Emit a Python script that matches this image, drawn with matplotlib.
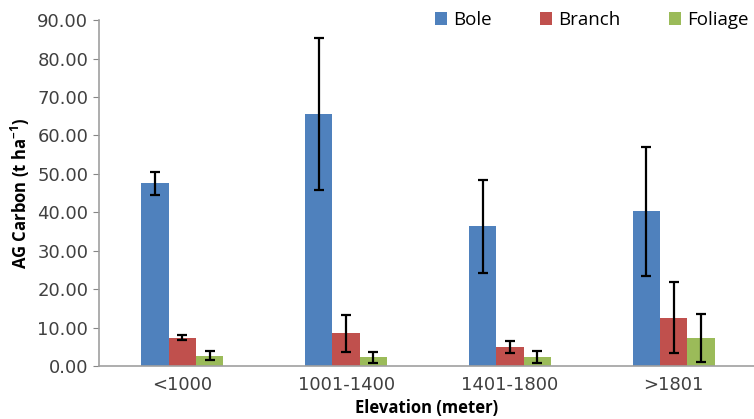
import numpy as np
import matplotlib.pyplot as plt
from matplotlib.ticker import FormatStrFormatter

categories = ["<1000", "1001-1400", "1401-1800", ">1801"]
series = ["Bole", "Branch", "Foliage"]
bole = [47.5, 65.5, 36.4, 40.3]
bole_err = [2.9, 19.8, 12.1, 16.8]
branch = [7.4, 8.5, 5.0, 12.6]
branch_err = [0.7, 4.8, 1.6, 9.3]
foliage = [2.7, 2.3, 2.4, 7.2]
foliage_err = [1.1, 1.4, 1.5, 6.2]
colors = ["#4F81BD", "#C0504D", "#9BBB59"]

fig = plt.figure(figsize=(7.54, 4.19), dpi=100)
ax = fig.add_axes([0.131, 0.1265, 0.869, 0.8255])

x = np.arange(len(categories)) + 0.5
width = 0.167
values = [bole, branch, foliage]
errors = [bole_err, branch_err, foliage_err]
for i, (name, vals, errs) in enumerate(zip(series, values, errors)):
    ax.bar(x + (i - 1) * width + 0.01, vals, width, color=colors[i], label=name,
           yerr=errs, capsize=3.5,
           error_kw=dict(ecolor="black", elinewidth=1.6, capthick=1.6))

ax.set_xlim(0, 4)
ax.set_ylim(0, 90)
ax.set_yticks(np.arange(0, 91, 10))
ax.yaxis.set_major_formatter(FormatStrFormatter("%.2f"))
ax.set_xticks(x + 0.01)
ax.set_xticklabels(categories)
ax.tick_params(axis="y", labelsize=13, colors="#868686", labelcolor="#404040",
               length=4, direction="out")
ax.tick_params(axis="x", labelsize=13, length=0, labelcolor="#404040", pad=7)

for side in ["top", "right"]:
    ax.spines[side].set_visible(False)
for side in ["left", "bottom"]:
    ax.spines[side].set_color("#A0A0A0")
    ax.spines[side].set_linewidth(1.2)

ax.set_ylabel("AG Carbon (t ha$^{\\mathregular{-1}}$)", fontsize=12, fontweight="bold",
              family="Open Sans", labelpad=4)
ax.set_xlabel("Elevation (meter)", fontsize=12, fontweight="bold",
              family="Open Sans", labelpad=4)

ax.legend(loc="upper right", bbox_to_anchor=(1.018, 1.075), ncol=3, frameon=False,
          handlelength=0.65, handleheight=0.65, handletextpad=0.35,
          columnspacing=2.55, prop={"family": "Open Sans", "size": 13.5})

fig.savefig("out.png", dpi=100)
